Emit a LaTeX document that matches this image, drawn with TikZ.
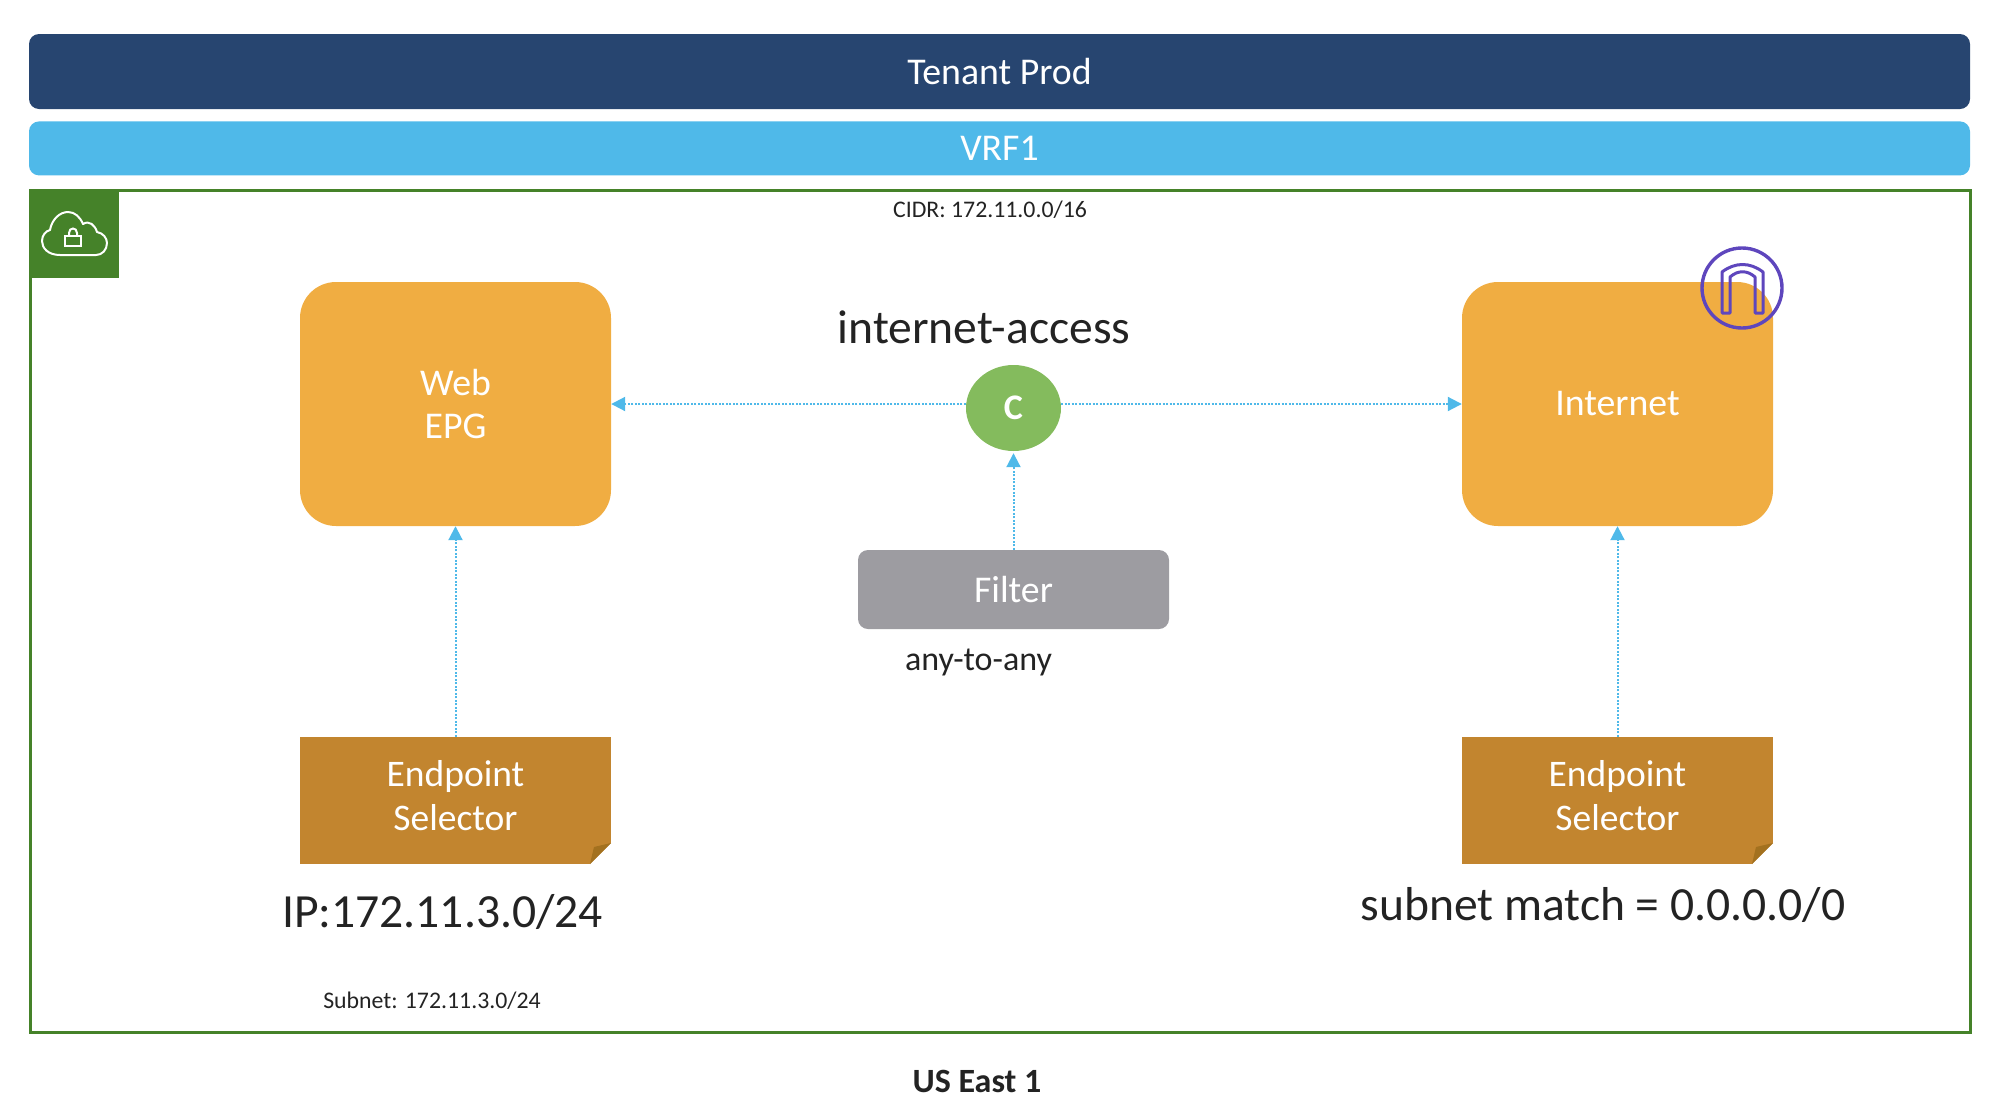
\documentclass[tikz,border=0pt]{standalone}
\usepackage{fontspec}
\setmainfont{Carlito}
\usetikzlibrary{arrows.meta,positioning,shapes.geometric}
\definecolor{navybar}{HTML}{274570}
\definecolor{skybar}{HTML}{4FB9E9}
\definecolor{epgfill}{HTML}{F0AD42}
\definecolor{selfill}{HTML}{C2852F}
\definecolor{selfold}{HTML}{A3711F}
\definecolor{filterfill}{HTML}{9D9CA1}
\definecolor{contractfill}{HTML}{84BB5D}
\definecolor{vpcgreen}{HTML}{458229}
\definecolor{igwpurple}{HTML}{5E46BD}
\definecolor{labeltext}{HTML}{232323}
\newcommand{\fs}[1]{\fontsize{#1}{#1}\selectfont}
\begin{document}
\begin{tikzpicture}[
  x=1pt, y=-1pt,
  every node/.style={inner sep=0pt, align=center, text=labeltext},
  bar/.style={rounded corners=10pt, minimum width=1941pt, text=white, font=\fs{37.8}},
  epg/.style={fill=epgfill, rounded corners=36pt, minimum width=311pt, minimum height=244pt, text=white, font=\fs{37.8}},
  selector/.style={fill=selfill, minimum width=311pt, minimum height=127pt, path picture={
    \fill[white] (path picture bounding box.south east) ++(0,21pt) -- ++(-21pt,-21pt) -- ++(21pt,0) -- cycle;
    \fill[selfold] (path picture bounding box.south east) ++(0,21pt) -- ++(-17pt,-4pt) -- ++(-4pt,-17pt) -- cycle;
  }},
  seltext/.style={text=white, font=\fs{37.5}},
  arrow/.style={-{Triangle[length=14pt,width=14pt]}, skybar, line width=2pt, dash pattern=on 2pt off 1.5pt},
  small/.style={font=\fs{23.8}},
  mid/.style={font=\fs{34}},
  big/.style={font=\fs{47.6}}
]
\useasboundingbox (0,0) rectangle (2016,1106);

% top bars
\node (tenant) [bar, fill=navybar, minimum height=75pt] at (999.5,71.5) {\raisebox{-1pt}{Tenant Prod}};
\node (vrf) [bar, fill=skybar, minimum height=54pt, below=12pt of tenant] {\raisebox{-1pt}{VRF1}};

% region frame and icon
\node (region) [draw=vpcgreen, line width=3pt, minimum width=1940pt, minimum height=841.5pt] at (1000.5,611.25) {};
\node (vpc) [fill=vpcgreen, minimum width=90pt, minimum height=89pt] at (74,233.5) {};
\draw[white, line width=2pt, line join=round] (60,255) .. controls (48,255) and (42,248) .. (42,241)
  .. controls (42,235) and (46,231) .. (50,230) .. controls (52,219) and (60,212) .. (68,212)
  .. controls (75,212) and (80,217) .. (83,224) .. controls (89,220) and (95,225) .. (97,232)
  .. controls (103,233) and (107,238) .. (107,243) .. controls (107,250) and (102,255) .. (96,255) -- cycle;
\draw[white, line width=2pt] (65,236) rectangle (81,246);
\draw[white, line width=2pt] (69,236) -- (69,233) .. controls (69,227) and (77,227) .. (77,233) -- (77,236);

% groups
\node (web) [epg] at (455.5,404) {Web\\[6pt]EPG};
\node (inet) [epg] at (1617.5,404) {\raisebox{-1.5pt}{Internet}};
\node (contract) [ellipse, fill=contractfill, minimum width=95pt, minimum height=86pt, text=white, font=\bfseries\fs{36}] at (1013.5,408) {\raisebox{-4pt}{C}};
\node (filter) [fill=filterfill, rounded corners=10pt, minimum width=311pt, minimum height=79pt, text=white, font=\fs{37.8}] at (1013.5,589.5) {\raisebox{-1pt}{Filter}};
\node (selweb) [selector] at (455.5,800.5) {};
\node (selinet) [selector] at (1617.5,800.5) {};
\node (selwebtext) [seltext] at ([yshift=5pt]selweb.center) {Endpoint\\[6pt]Selector};
\node (selinettext) [seltext] at ([yshift=5pt]selinet.center) {Endpoint\\[6pt]Selector};

% internet gateway
\draw[igwpurple, line width=3.4pt] (1742,288) circle (40pt);
\draw[igwpurple, line width=3pt, line join=round] (1722,313) -- (1722,272) .. controls (1735,262) and (1750,262) .. (1763,272)
  -- (1763,313) -- (1755,313) -- (1755,277) .. controls (1747,270) and (1738,270) .. (1730,277) -- (1730,313) -- cycle;

% labels
\node (cidr) [small] at (990,210) {CIDR: 172.11.0.0/16};
\node (name) [big] at (984,327) {internet-access};
\node (any) [mid] at (978.5,662) {any-to-any};
\node (ipsel) [big] at (442.5,912) {IP:172.11.3.0/24};
\node (match) [big] at (1603,904.5) {subnet match = 0.0.0.0/0};
\node (subnet) [small] at (432,1001) {Subnet: 172.11.3.0/24};
\node (east) [font=\bfseries\fs{34}] at (977,1081) {US East 1};

% connectors
\draw[arrow] (contract.west |- web.east) -- (web.east);
\draw[arrow] (contract.east |- inet.west) -- (inet.west);
\draw[arrow, shorten >=2pt] (filter.north) -- (contract.south);
\draw[arrow] (selweb.north) -- (web.south);
\draw[arrow] (selinet.north) -- (inet.south);
\end{tikzpicture}
\end{document}
